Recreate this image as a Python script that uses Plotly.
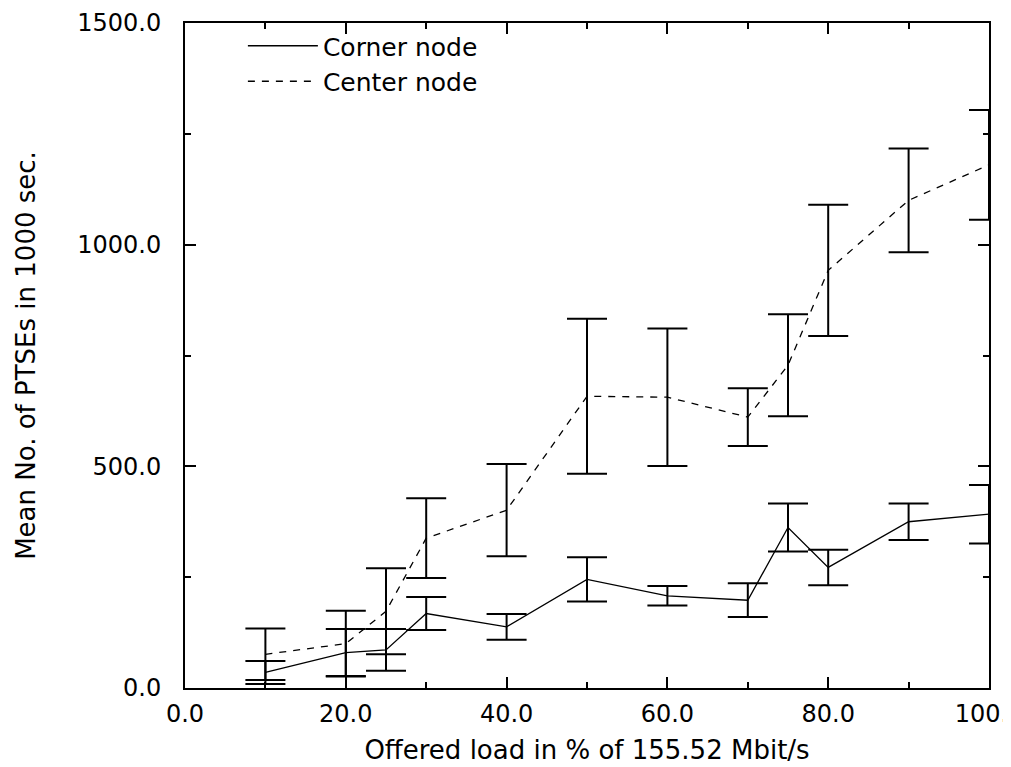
import plotly.graph_objects as go

# 측정 부하(%)
load = [10, 20, 25, 30, 40, 50, 60, 70, 75, 80, 90, 100]

# Corner node: 평균과 오차 막대 크기
corner_mean = [35, 80, 86, 168, 138, 245, 208, 198, 362, 272, 375, 392]
corner_err = [26, 53, 47, 37, 29, 50, 22, 38, 54, 40, 41, 66]

# Center node: 평균과 오차 막대 크기
center_mean = [76, 100, 173, 338, 401, 658, 656, 611, 728, 942, 1100, 1180]
center_err = [58, 74, 97, 90, 104, 175, 155, 65, 115, 148, 117, 124]

FONT = "DejaVu Sans"

fig = go.Figure()

fig.add_trace(
    go.Scatter(
        x=load,
        y=corner_mean,
        mode="lines",
        name="Corner node",
        line={"color": "black", "width": 1.3},
        error_y={"type": "data", "array": corner_err, "visible": True,
                 "color": "black", "thickness": 2, "width": 20},
    )
)
fig.add_trace(
    go.Scatter(
        x=load,
        y=center_mean,
        mode="lines",
        name="Center node",
        line={"color": "black", "width": 1.3, "dash": "7px,7px"},
        error_y={"type": "data", "array": center_err, "visible": True,
                 "color": "black", "thickness": 2, "width": 20},
    )
)

axis_common = {
    "showgrid": False,
    "zeroline": False,
    "showline": True,
    "linecolor": "black",
    "linewidth": 2,
    "mirror": "allticks",
    "ticks": "inside",
    "ticklen": 11,
    "tickwidth": 2,
    "tickcolor": "black",
    "tickformat": ".1f",
    "tickfont": {"family": FONT, "size": 24, "color": "black"},
    "automargin": False,
    "ticklabeloverflow": "allow",
}

fig.update_xaxes(
    **axis_common,
    range=[0, 100],
    dtick=20,
    minor={"dtick": 10, "ticks": "inside", "ticklen": 6, "tickwidth": 2, "tickcolor": "black"},
    ticklabelstandoff=3,
    title={"text": "Offered load in % of 155.52 Mbit/s",
           "font": {"family": FONT, "size": 26, "color": "black"}, "standoff": 14},
)
fig.update_yaxes(
    **axis_common,
    range=[0, 1500],
    dtick=500,
    minor={"dtick": 250, "ticks": "inside", "ticklen": 6, "tickwidth": 2, "tickcolor": "black"},
    ticklabelstandoff=17,
    title={"text": "Mean No. of PTSEs in 1000 sec.",
           "font": {"family": FONT, "size": 26, "color": "black"}, "standoff": 34},
)

# 페이지 여백(8px)을 고려해 그림 크기와 여백을 줄입니다.
fig.update_layout(
    width=1003,
    height=759,
    autosize=False,
    margin={"l": 177, "r": 22, "t": 15, "b": 79, "pad": 0},
    paper_bgcolor="white",
    plot_bgcolor="white",
    legend={
        "x": 0.072, "y": 1.0, "xanchor": "left", "yanchor": "top",
        "bgcolor": "rgba(0,0,0,0)",
        "font": {"family": FONT, "size": 25, "color": "black"},
        "itemwidth": 70,
        "tracegroupgap": 0,
    },
)

fig.write_html("out.html")
